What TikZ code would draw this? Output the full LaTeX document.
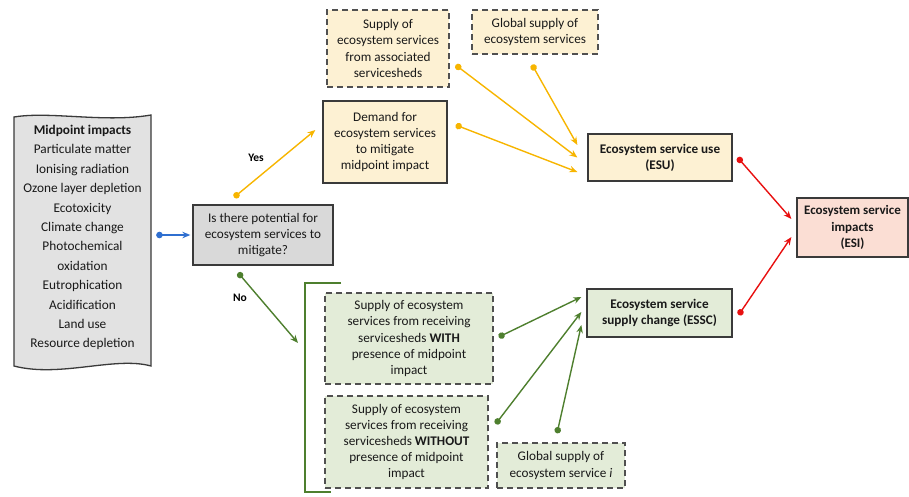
\documentclass[tikz,border=0pt]{standalone}
\usepackage{fontspec}
\setmainfont{Carlito}
\usetikzlibrary{arrows.meta,calc}
\definecolor{yfill}{HTML}{FDF1D3}
\definecolor{gfill}{HTML}{E3ECD8}
\definecolor{pfill}{HTML}{FBDED4}
\definecolor{grfill}{HTML}{E2E2E2}
\definecolor{qfill}{HTML}{D9D9D9}
\definecolor{yarr}{HTML}{F7B500}
\definecolor{garr}{HTML}{4E7F2E}
\definecolor{rarr}{HTML}{E81010}
\definecolor{barr}{HTML}{2F6FD0}
\definecolor{bord}{HTML}{3A3A3A}
\definecolor{dbord}{HTML}{505050}
\tikzset{
  box/.style={draw=bord, line width=1.3pt, inner sep=0pt, align=center, text=black!90,
    font=\fontsize{13.2}{16.2}\selectfont},
  dbox/.style={box, draw=dbord, dash pattern=on 6pt off 4pt},
  conn/.style={line width=1.4pt, {Circle[length=6.5pt]}-{Stealth[length=8pt,width=6.5pt]}},
  lbl/.style={font=\fontsize{11.5}{13}\selectfont\bfseries, inner sep=0pt}
}
\begin{document}
\begin{tikzpicture}[x=1pt,y=-1pt]
\useasboundingbox (0,0) rectangle (909,496);
% midpoint impacts scroll
\draw[draw=bord, line width=1.3pt, fill=grfill]
  (14,117) .. controls (50,111) and (105,123) .. (151,115)
  -- (151,366) .. controls (115,356) and (60,378) .. (14,366) -- cycle;
\node[align=center, inner sep=0pt, minimum width=137pt, text=black!90,
  font=\fontsize{13.3}{19.4}\selectfont] (mid) at (82.5,237.5)
  {\textbf{Midpoint impacts}\\Particulate matter\\Ionising radiation\\Ozone layer depletion\\Ecotoxicity\\Climate change\\Photochemical\\oxidation\\Eutrophication\\Acidification\\Land use\\Resource depletion};
% boxes
\node[box, fill=qfill, minimum width=140pt, minimum height=60pt] (q) at (263,235)
  {Is there potential for\\ecosystem services to\\mitigate?};
\node[box, fill=yfill, minimum width=124pt, minimum height=82pt] (dem) at (385,142)
  {Demand for\\ecosystem services\\to mitigate\\midpoint impact};
\node[dbox, fill=yfill, minimum width=122pt, minimum height=77pt] (sup) at (388,48.5)
  {Supply of\\ecosystem services\\from associated\\servicesheds};
\node[dbox, fill=yfill, minimum width=126pt, minimum height=44pt] (glob) at (535,32)
  {Global supply of\\ecosystem services};
\node[box, fill=yfill, minimum width=144pt, minimum height=47pt, font=\fontsize{13.2}{16.2}\selectfont\bfseries] (esu) at (660,157.5)
  {Ecosystem service use\\(ESU)};
\node[box, fill=pfill, minimum width=111pt, minimum height=59pt, font=\fontsize{13}{16.2}\selectfont\bfseries] (esi) at (852.5,227.5)
  {Ecosystem service\\impacts\\(ESI)};
\node[box, fill=gfill, minimum width=145pt, minimum height=48pt, font=\fontsize{13.2}{16.2}\selectfont\bfseries] (essc) at (659.5,313)
  {Ecosystem service\\supply change (ESSC)};
\node[dbox, fill=gfill, minimum width=168pt, minimum height=91pt] (with) at (409,338.5)
  {Supply of ecosystem\\services from receiving\\servicesheds \textbf{WITH}\\presence of midpoint\\impact};
\node[dbox, fill=gfill, minimum width=163pt, minimum height=92pt] (without) at (406.5,442)
  {Supply of ecosystem\\services from receiving\\servicesheds \textbf{WITHOUT}\\presence of midpoint\\impact};
\node[dbox, fill=gfill, minimum width=128pt, minimum height=45pt] (gi) at (561,465.5)
  {Global supply of\\ecosystem service \textit{i}};
% bracket
\draw[garr, line width=1.4pt] (341,283) -- (305,283) -- (305,492) -- (331,492);
\coordinate (br) at (305,343);
% labels
\node[lbl] (yes) at (256,158) {Yes};
\node[lbl] (no) at (240,298) {No};
% connectors
\draw[conn, barr] ($(mid.east)+(5,-2.5)$) -- ($(q.west)+(-2,0)$);
\draw[conn, yarr] ($(q.north)+(-29,-7)$) -- ($(dem.west)+(-7,-12)$);
\draw[conn, yarr] ($(sup.east)+(6,16.5)$) -- ($(esu.west)+(-10,0)$);
\draw[conn, yarr] ($(glob.south)+(-3,10)$) -- ($(esu.west)+(-10,-12.5)$);
\draw[conn, yarr] ($(dem.east)+(8,-17)$) -- ($(esu.west)+(-10,14.5)$);
\draw[conn, rarr] ($(esu.east)+(5,0)$) -- ($(esi.west)+(-5,-8.5)$);
\draw[conn, rarr] ($(essc.east)+(6,2)$) -- ($(esi.west)+(-5,9.5)$);
\draw[conn, garr] ($(q.south)+(-25,7)$) -- ($(br)+(-7,0)$);
\draw[conn, garr] ($(with.east)+(5,-1.5)$) -- ($(essc.west)+(-5,-16)$);
\draw[conn, garr] ($(without.east)+(7,-18)$) -- ($(essc.west)+(-5,-1)$);
\draw[conn, garr] ($(gi.north)+(-4,-9)$) -- ($(essc.west)+(-5,12)$);
\end{tikzpicture}
\end{document}
